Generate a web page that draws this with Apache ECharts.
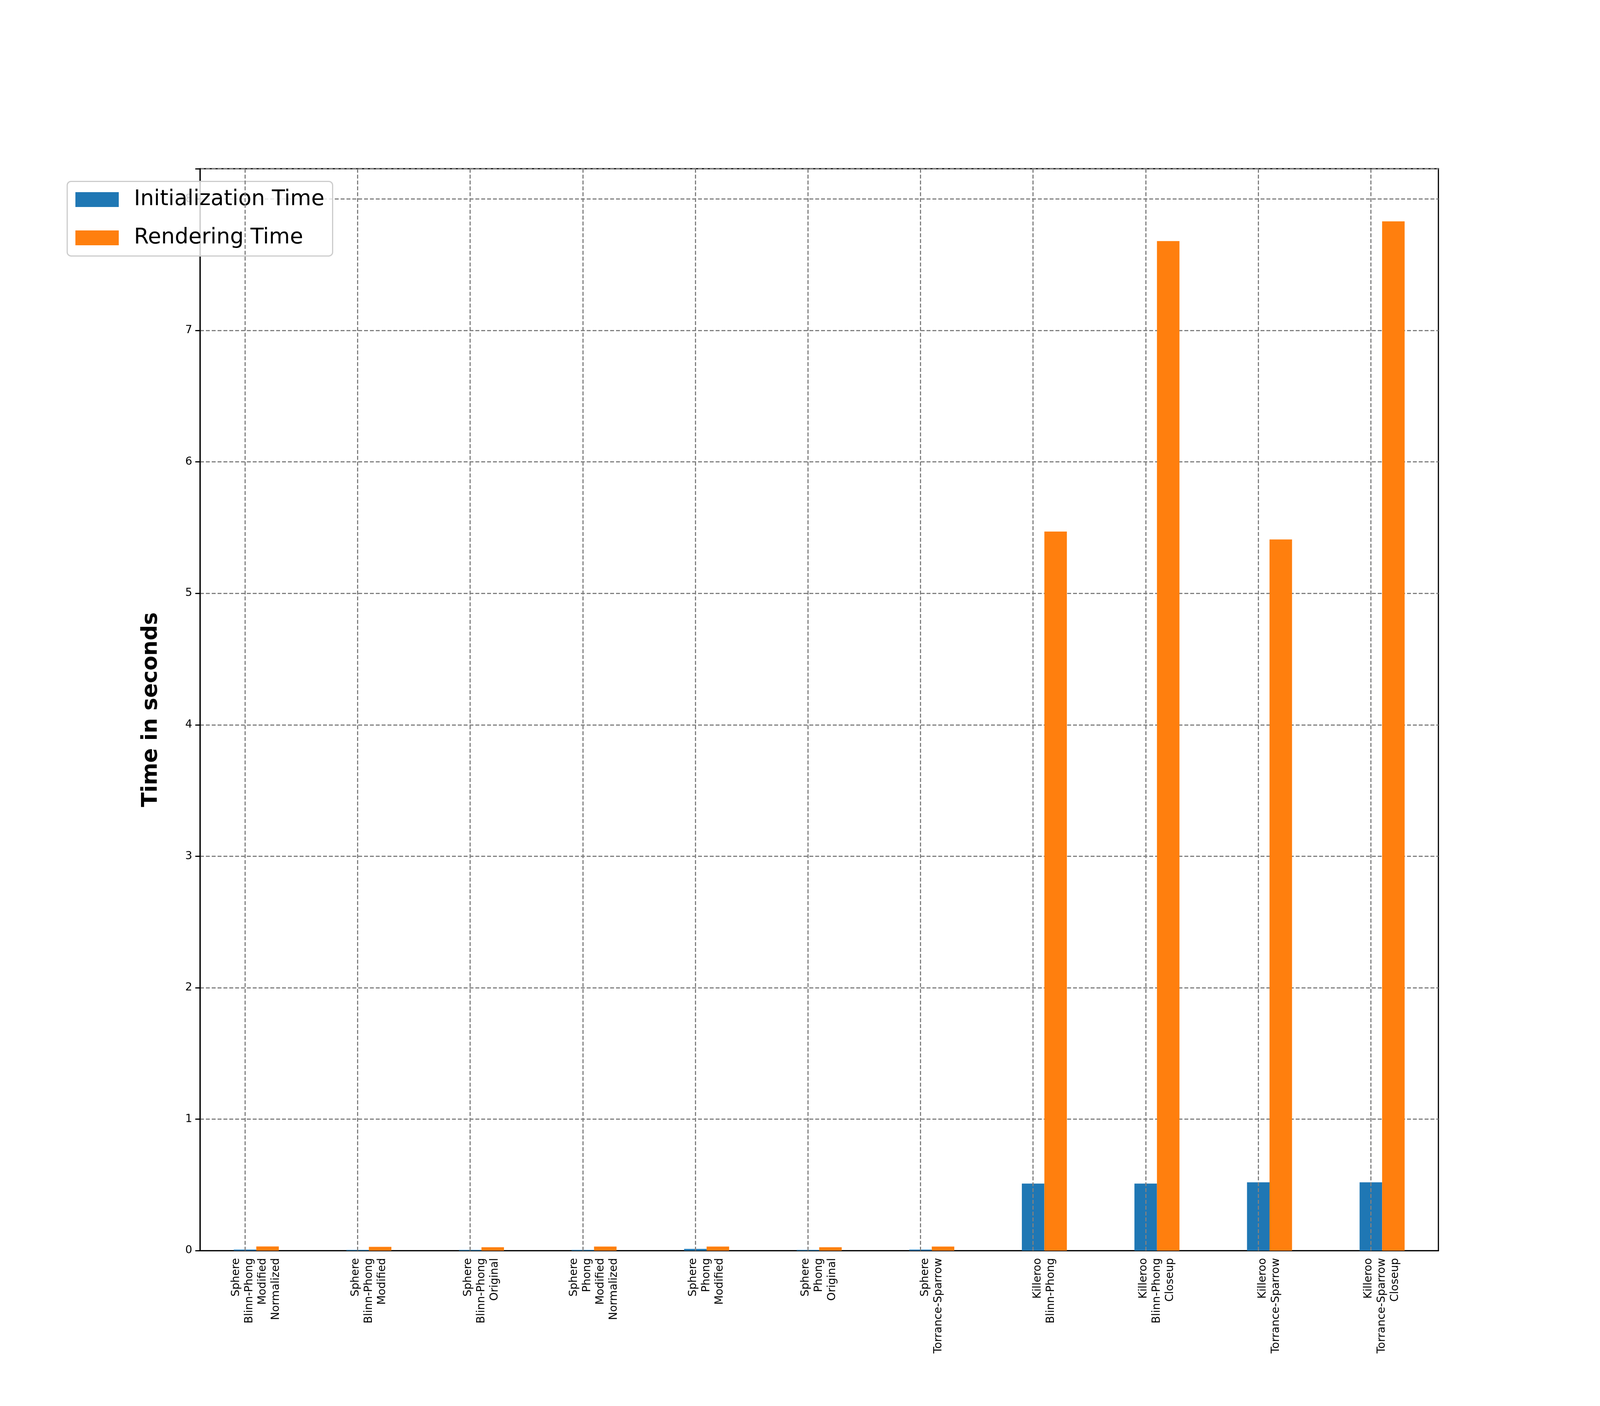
<!DOCTYPE html>
<html>
<head>
<meta charset="utf-8">
<script src="https://cdn.jsdelivr.net/npm/echarts@6/dist/echarts.min.js"></script>
<style>html,body{margin:0;padding:0;background:#fff;overflow:hidden}#chart{width:100vw;height:100vh}</style>
</head>
<body>
<div id="chart"></div>
<script>
var categories = [
  'Sphere\nBlinn-Phong\nModified\nNormalized',
  'Sphere\nBlinn-Phong\nModified',
  'Sphere\nBlinn-Phong\nOriginal',
  'Sphere\nPhong\nModified\nNormalized',
  'Sphere\nPhong\nModified',
  'Sphere\nPhong\nOriginal',
  'Sphere\nTorrance-Sparrow',
  'Killeroo\nBlinn-Phong',
  'Killeroo\nBlinn-Phong\nCloseup',
  'Killeroo\nTorrance-Sparrow',
  'Killeroo\nTorrance-Sparrow\nCloseup'
];
var initTime = [0.008, 0.005, 0.005, 0.005, 0.013, 0.005, 0.008, 0.51, 0.51, 0.52, 0.52];
var renderTime = [0.032, 0.029, 0.026, 0.031, 0.031, 0.026, 0.031, 5.47, 7.68, 5.41, 7.83];
var yTicks = [0, 1, 2, 3, 4, 5, 6, 7, 8];

var el = document.getElementById('chart');
// scale everything to the actual viewport (designed for 4800 wide)
var s = el.clientWidth / 4800;
function px(v) { return Math.round(v * s); }

var chart = echarts.init(el);
var gridLine = {color: '#808080', width: px(3), type: [px(12), px(6)]};
chart.setOption({
  animation: false,
  textStyle: {fontFamily: 'DejaVu Sans'},
  grid: {left: '12.5%', right: '10.1%', top: '12%', bottom: '11.05%', show: true, borderColor: '#000', borderWidth: px(3), backgroundColor: 'transparent'},
  legend: {
    left: '4.2%', top: '12.9%', orient: 'vertical',
    data: ['Initialization Time', 'Rendering Time'],
    itemWidth: px(130), itemHeight: px(45), itemGap: px(50),
    textStyle: {fontSize: px(64), color: '#000', fontFamily: 'DejaVu Sans', padding: [0, 0, 0, px(40)]},
    borderColor: '#cccccc', borderWidth: px(3), borderRadius: px(12), padding: [px(22), px(25), px(22), px(25)],
    backgroundColor: 'rgba(255,255,255,0.8)', icon: 'rect'
  },
  xAxis: {
    type: 'category', data: categories,
    axisLine: {lineStyle: {color: '#000', width: px(3)}},
    axisTick: {alignWithLabel: true, length: px(14), lineStyle: {color: '#000', width: px(3)}},
    axisLabel: {rotate: 90, fontSize: px(33), color: '#000', lineHeight: px(40), align: 'right', interval: 0, margin: px(22)},
    splitLine: {show: false}
  },
  yAxis: {
    type: 'value', min: 0, max: 8.23, interval: 1,
    name: 'Time in seconds', nameLocation: 'middle', nameGap: px(115),
    nameTextStyle: {fontSize: px(64), fontWeight: 'bold', color: '#000'},
    axisLine: {show: true, lineStyle: {color: '#000', width: px(3)}},
    axisTick: {show: true, length: px(14), lineStyle: {color: '#000', width: px(3)}},
    axisLabel: {fontSize: px(33), color: '#000', margin: px(24),
      formatter: function (v) { return yTicks.indexOf(v) >= 0 ? String(v) : ''; }},
    splitLine: {lineStyle: gridLine}
  },
  series: [
    {
      name: 'Initialization Time', type: 'bar', data: initTime,
      barWidth: '20%', barGap: '0%', itemStyle: {color: '#1f77b4'},
      markLine: {
        silent: true, symbol: 'none', label: {show: false},
        lineStyle: gridLine,
        data: categories.map(function (c) { return {xAxis: c}; })
      }
    },
    {
      name: 'Rendering Time', type: 'bar', data: renderTime,
      barWidth: '20%', barGap: '0%', itemStyle: {color: '#ff7f0e'}
    }
  ]
});
</script>
</body>
</html>
